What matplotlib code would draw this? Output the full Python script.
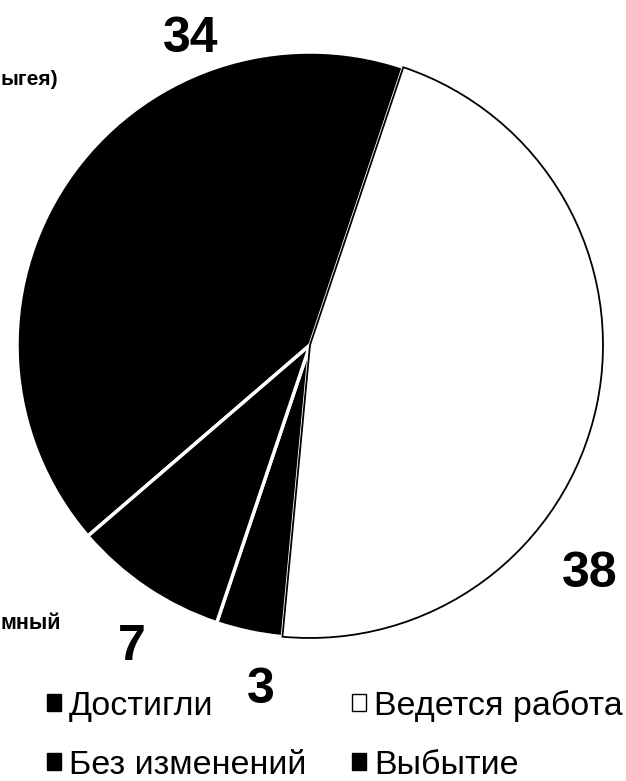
import matplotlib
matplotlib.use('Agg')
import matplotlib.pyplot as plt
import matplotlib.patches as mpatches

plt.rcParams['font.family'] = ['Liberation Sans', 'DejaVu Sans']

# data (slice order is clockwise, starting with Достигли)
categories = ['Достигли', 'Ведется работа', 'Без изменений', 'Выбытие']
values = [34, 38, 3, 7]
colors = ['black', 'white', 'black', 'black']

# where the value labels sit, in pie radii from the centre
label_pos = [(-0.406, 1.000), (0.956, -0.826), (-0.167, -1.222), (-0.608, -1.075)]

W, H = 626, 781
fig = plt.figure(figsize=(W / 100, H / 100), dpi=100)

# pie: centre (310, 345) px, radius 293 px
cx, cy, r = 310, 345, 293
ax = fig.add_axes([(cx - r) / W, (H - cy - r) / H, 2 * r / W, 2 * r / H])

wedges, _ = ax.pie(values, colors=colors, startangle=220.7, counterclock=False,
                   radius=1, wedgeprops=dict(edgecolor='white', linewidth=2.5))
for w, c in zip(wedges, colors):
    if c == 'white':
        w.set_edgecolor('black')
        w.set_linewidth(1.3)
        w.set_zorder(3)
    else:
        w.set_zorder(1)

ax.set_xlim(-1, 1)
ax.set_ylim(-1, 1)
ax.set_aspect('equal')
ax.axis('off')

for v, (x, y) in zip(values, label_pos):
    ax.text(x, y, str(v), ha='center', va='baseline', fontsize=36,
            fontweight='bold', clip_on=False)

# pieces of category labels at the left edge
fig.text(1 / W, (H - 85) / H, 'ыгея)', ha='left', va='baseline',
         fontsize=15, fontweight='bold')
fig.text(1 / W, (H - 629) / H, 'мный', ha='left', va='baseline',
         fontsize=15.5, fontweight='bold')

# legend, two columns: fill order is column-wise
handles = [mpatches.Patch(facecolor=c, edgecolor='black', linewidth=1) for c in colors]
order = [0, 2, 1, 3]
fig.legend([handles[i] for i in order], [categories[i] for i in order],
           ncol=2, loc='upper left', bbox_to_anchor=(47 / W, (H - 690) / H),
           frameon=False, fontsize=24.5, handlelength=0.42, handleheight=0.40,
           handletextpad=0.22, columnspacing=1.35, labelspacing=0.81,
           borderpad=0, borderaxespad=0)

fig.savefig('out.png', dpi=100, facecolor='white')
